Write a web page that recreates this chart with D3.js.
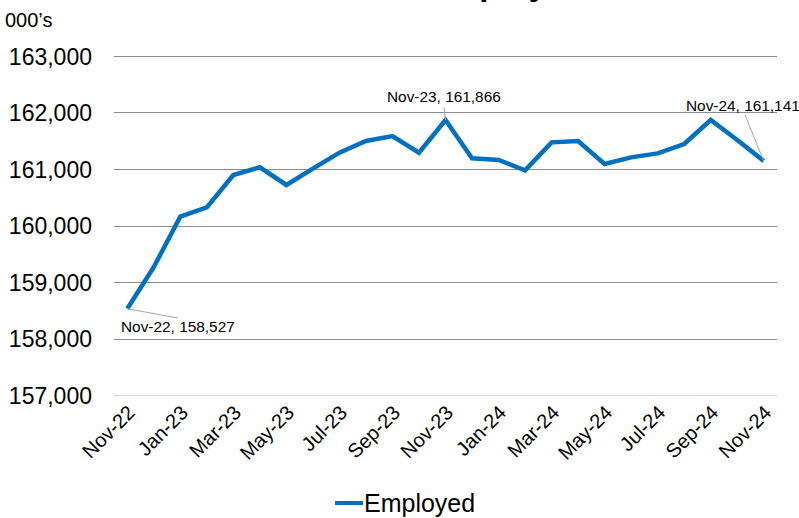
<!DOCTYPE html>
<html>
<head>
<meta charset="utf-8">
<script src="https://cdn.jsdelivr.net/npm/d3@7"></script>
<style>
  html, body { margin: 0; padding: 0; background: #fff; }
  svg { display: block; font-family: "Liberation Sans", Arial, sans-serif; }
</style>
</head>
<body>
<svg id="chart" width="799" height="518"></svg>
<script>
const months = ["Nov-22","Dec-22","Jan-23","Feb-23","Mar-23","Apr-23","May-23","Jun-23","Jul-23","Aug-23","Sep-23","Oct-23","Nov-23","Dec-23","Jan-24","Feb-24","Mar-24","Apr-24","May-24","Jun-24","Jul-24","Aug-24","Sep-24","Oct-24","Nov-24"];
const employed = [158527,159265,160156,160322,160894,161030,160717,161006,161289,161496,161584,161289,161866,161189,161159,160977,161472,161496,161088,161206,161277,161442,161867,161513,161141];
const yTicks = [157000,158000,159000,160000,161000,162000,163000];
const xLabels = ["Nov-22","Jan-23","Mar-23","May-23","Jul-23","Sep-23","Nov-23","Jan-24","Mar-24","May-24","Jul-24","Sep-24","Nov-24"];
const annotated = ["Nov-22","Nov-23","Nov-24"];
const seriesName = "Employed";
const titleText = "Employment";
const unitLabel = "000\u2019s";

(function () {
const svg = d3.select("#chart");
const pLeft = 114, pRight = 777, pTop = 56, pBottom = 395;

const x = d3.scaleBand().domain(months).range([pLeft, pRight]).padding(0);
const y = d3.scaleLinear().domain([157000, 163000]).range([pBottom, pTop]);
const cx = m => x(m) + x.bandwidth() / 2;

// title (clipped at top like reference)
svg.append("text").attr("x", 428).attr("y", -5)
  .attr("font-size", 33).attr("font-weight", "bold").attr("fill", "#000")
  .text(titleText);

svg.append("text").attr("x", 5).attr("y", 27)
  .attr("font-size", 20).attr("fill", "#000").text(unitLabel);

// gridlines
svg.append("g").selectAll("line").data(yTicks).join("line")
  .attr("x1", pLeft).attr("x2", pRight)
  .attr("y1", d => Math.round(y(d)) + 0.5).attr("y2", d => Math.round(y(d)) + 0.5)
  .attr("stroke", d => d === 157000 ? "#d9d9d9" : "#8c8c8c")
  .attr("stroke-width", 1.2);

// y axis labels
const yAxis = d3.axisLeft(y).tickValues(yTicks).tickFormat(d3.format(",")).tickSize(0).tickPadding(0);
const gy = svg.append("g").attr("transform", `translate(92,0)`).call(yAxis);
gy.select(".domain").remove();
gy.selectAll("text").attr("font-size", 23).attr("fill", "#000")
  .attr("font-family", "Liberation Sans, Arial, sans-serif").attr("dy", "0.35em");

// x axis labels
const xAxis = d3.axisBottom(x).tickValues(xLabels).tickSize(0).tickPadding(0);
const gx = svg.append("g").attr("transform", `translate(0,${pBottom})`).call(xAxis);
gx.select(".domain").remove();
gx.selectAll("text")
  .attr("font-size", 20).attr("fill", "#000")
  .attr("font-family", "Liberation Sans, Arial, sans-serif")
  .attr("text-anchor", "end")
  .attr("transform", "translate(4,14) rotate(-45)")
  .attr("dy", "0.35em").attr("y", 0).attr("x", 0);

// line
const line = d3.line().x((d, i) => cx(months[i])).y(d => y(d));
svg.append("path").datum(employed)
  .attr("d", line).attr("fill", "none")
  .attr("stroke", "#0070C0").attr("stroke-width", 4.5)
  .attr("stroke-linejoin", "miter");

// annotations
const fmt = d3.format(",");
const annoPos = {
  "Nov-22": {tx: 121, ty: 332, lx: 178, ly: 318},
  "Nov-23": {tx: 387, ty: 102, lx: 444, ly: 107},
  "Nov-24": {tx: 686, ty: 111, lx: 745, ly: 115}
};
annotated.forEach(m => {
  const i = months.indexOf(m);
  const p = annoPos[m];
  svg.append("line").attr("x1", cx(m)).attr("y1", y(employed[i]))
    .attr("x2", p.lx).attr("y2", p.ly)
    .attr("stroke", "#a6a6a6").attr("stroke-width", 1);
  svg.append("text").attr("x", p.tx).attr("y", p.ty)
    .attr("font-size", 15.4).attr("fill", "#000")
    .text(`${m}, ${fmt(employed[i])}`);
});

// legend
svg.append("line").attr("x1", 335).attr("x2", 363).attr("y1", 503).attr("y2", 503)
  .attr("stroke", "#0070C0").attr("stroke-width", 4);
svg.append("text").attr("x", 364).attr("y", 512)
  .attr("font-size", 25).attr("fill", "#000").text(seriesName);
})();
</script>
</body>
</html>
